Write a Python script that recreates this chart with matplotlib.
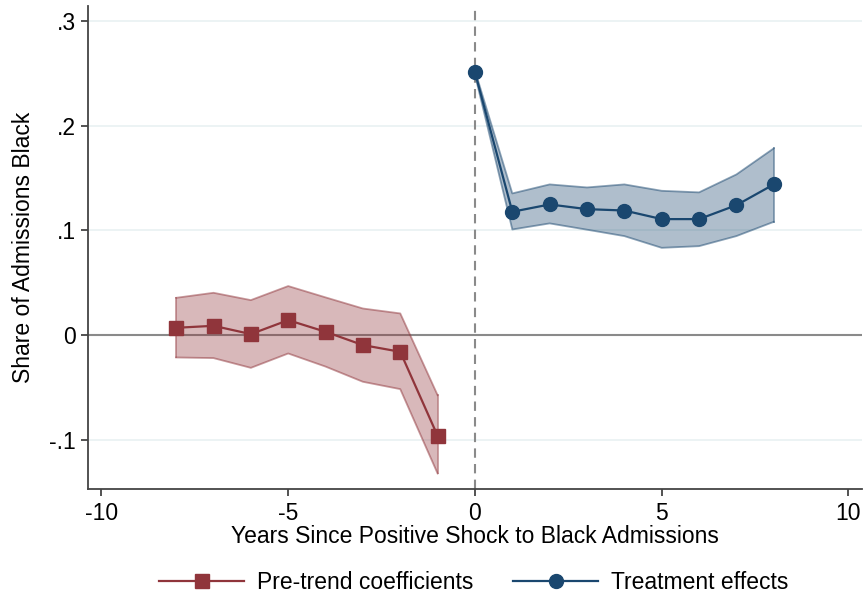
import matplotlib
matplotlib.use("Agg")
import matplotlib.pyplot as plt
from matplotlib.lines import Line2D

plt.rcParams['font.family'] = ['Liberation Sans', 'DejaVu Sans']

# Pre-trend coefficients
pre_x = [-8, -7, -6, -5, -4, -3, -2, -1]
pre_y = [0.0070, 0.0089, 0.0010, 0.0143, 0.0032, -0.0095, -0.0159, -0.0961]
pre_hi = [0.0356, 0.0404, 0.0334, 0.0468, 0.0360, 0.0254, 0.0207, -0.0573]
pre_lo = [-0.0213, -0.0219, -0.0312, -0.0175, -0.0300, -0.0445, -0.0515, -0.1320]

# Treatment effects
post_x = [0, 1, 2, 3, 4, 5, 6, 7, 8]
post_y = [0.2507, 0.1177, 0.1247, 0.1202, 0.1189, 0.1107, 0.1107, 0.1240, 0.1438]
post_hi = [0.2525, 0.1352, 0.1438, 0.1409, 0.1438, 0.1377, 0.1362, 0.1533, 0.1782]
post_lo = [0.2485, 0.1008, 0.1066, 0.1006, 0.0945, 0.0833, 0.0849, 0.0945, 0.1081]

xticks = [-10, -5, 0, 5, 10]
yticks = [-0.1, 0, 0.1, 0.2, 0.3]
ytick_labels = ['-.1', '0', '.1', '.2', '.3']

RED = '#90353B'
BLUE = '#1A476F'
FS = 16.5

fig = plt.figure(figsize=(8.68, 6.02), dpi=100)
ax = fig.add_axes([0.1014, 0.1877, 0.8916, 0.8023])

for y in yticks:
    if y != 0:
        ax.axhline(y, color='#EAF2F3', lw=1.3, zorder=0)
ax.axhline(0, color='#8a8a8a', lw=1.5, zorder=1)
ax.axvline(0, color='#8a8a8a', lw=1.5, ls=(0, (4.5, 3)), zorder=1)

ax.fill_between(pre_x, pre_lo, pre_hi, facecolor=RED, alpha=0.35, edgecolor='none', zorder=2)
ax.plot(pre_x, pre_hi, color=RED, alpha=0.5, lw=1.3, zorder=2)
ax.plot(pre_x, pre_lo, color=RED, alpha=0.5, lw=1.3, zorder=2)
ax.plot([pre_x[0], pre_x[0]], [pre_lo[0], pre_hi[0]], color=RED, alpha=0.5, lw=1.3, zorder=2)
ax.plot([pre_x[-1], pre_x[-1]], [pre_lo[-1], pre_hi[-1]], color=RED, alpha=0.5, lw=1.3, zorder=2)
ax.plot(pre_x, pre_y, color=RED, lw=1.6, marker='s', ms=10, zorder=3)

ax.fill_between(post_x, post_lo, post_hi, facecolor=BLUE, alpha=0.35, edgecolor='none', zorder=2)
ax.plot(post_x, post_hi, color=BLUE, alpha=0.5, lw=1.3, zorder=2)
ax.plot(post_x, post_lo, color=BLUE, alpha=0.5, lw=1.3, zorder=2)
ax.plot([post_x[-1], post_x[-1]], [post_lo[-1], post_hi[-1]], color=BLUE, alpha=0.5, lw=1.3, zorder=2)
ax.plot(post_x, post_y, color=BLUE, lw=1.6, marker='o', ms=10, zorder=3)

ax.set_xlim(-10.36, 10.36)
ax.set_ylim(-0.1468, 0.314)
ax.set_xticks(xticks)
ax.set_xticklabels([str(t) for t in xticks])
ax.set_yticks(yticks)
ax.set_yticklabels(ytick_labels)
ax.tick_params(axis='both', direction='out', length=5, width=1.3, color='#444444',
               labelsize=FS, pad=4)

for s in ['top', 'right']:
    ax.spines[s].set_visible(False)
for s in ['left', 'bottom']:
    ax.spines[s].set_color('#444444')
    ax.spines[s].set_linewidth(1.3)

ax.set_xlabel('Years Since Positive Shock to Black Admissions', fontsize=FS, labelpad=0)
ax.set_ylabel('Share of Admissions Black', fontsize=FS, labelpad=10)

handles = [
    Line2D([], [], color=RED, lw=1.6, marker='s', ms=10),
    Line2D([], [], color=BLUE, lw=1.6, marker='o', ms=10),
]
fig.legend(handles, ['Pre-trend coefficients', 'Treatment effects'],
           loc='center', bbox_to_anchor=(0.546, 0.033), ncol=2, frameon=False,
           fontsize=FS, handlelength=3.7, columnspacing=1.75, handletextpad=0.57)

fig.savefig('out.png', dpi=100, facecolor='white')
